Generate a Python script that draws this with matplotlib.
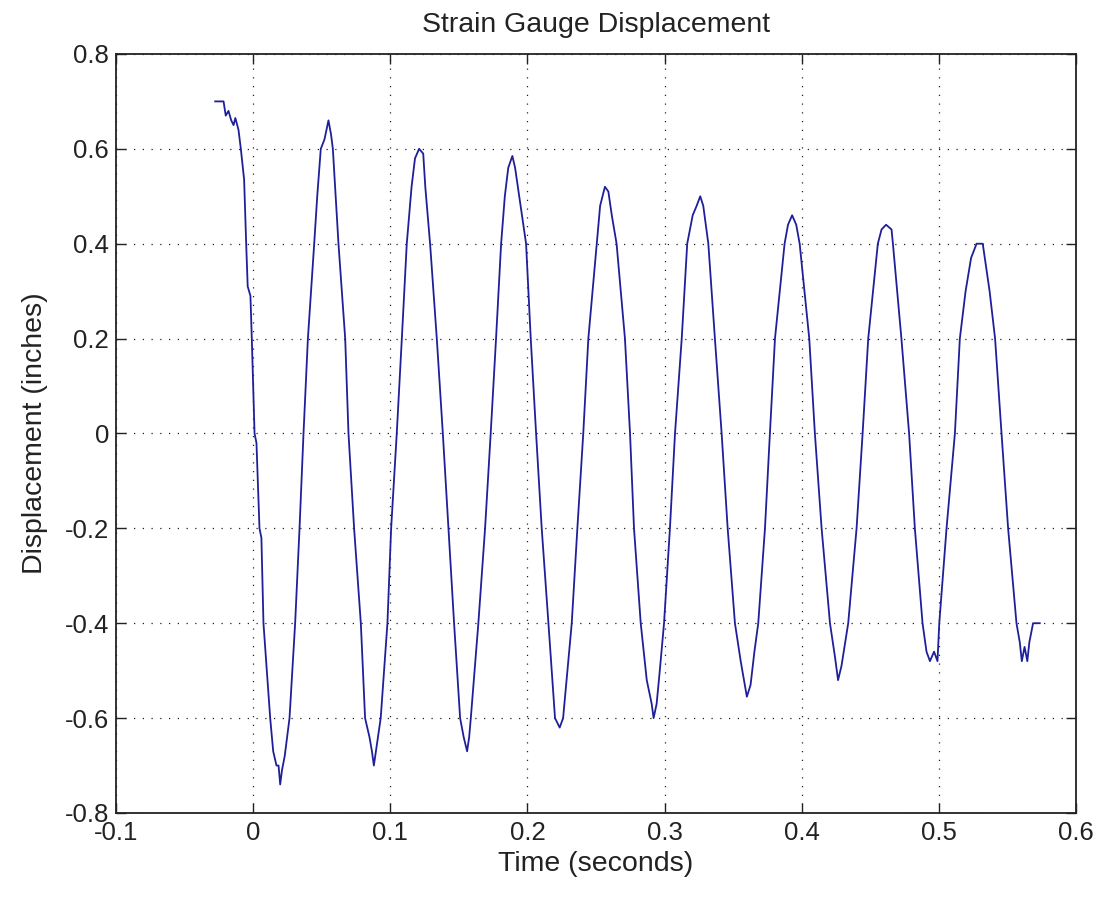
import matplotlib
matplotlib.use("Agg")
import matplotlib.pyplot as plt

plt.rcParams['font.family'] = ['Liberation Sans', 'DejaVu Sans']
plt.rcParams['axes.unicode_minus'] = False

# strain gauge record: time (s) and displacement (in)
time_s = [
    -0.0277, -0.0216, -0.0200, -0.0180, -0.0160, -0.0143, -0.0130, -0.0107,
    -0.0090, -0.0066, -0.0051, -0.0040, -0.0020, -0.0010, 0.0010, 0.0024,
    0.0046, 0.0060, 0.0075, 0.0097, 0.0124, 0.0146, 0.0170, 0.0185,
    0.0197, 0.0210, 0.0230, 0.0265, 0.0306, 0.0338, 0.0367, 0.0399,
    0.0445, 0.0467, 0.0493, 0.0520, 0.0549, 0.0568, 0.0581, 0.0622,
    0.0654, 0.0671, 0.0695, 0.0736, 0.0785, 0.0816, 0.0848, 0.0866,
    0.0880, 0.0890, 0.0930, 0.0979, 0.1006, 0.1047, 0.1084, 0.1120,
    0.1155, 0.1180, 0.1210, 0.1240, 0.1255, 0.1290, 0.1339, 0.1383,
    0.1424, 0.1465, 0.1509, 0.1535, 0.1560, 0.1575, 0.1587, 0.1642,
    0.1691, 0.1732, 0.1771, 0.1808, 0.1835, 0.1860, 0.1890, 0.1910,
    0.1940, 0.1990, 0.2024, 0.2063, 0.2104, 0.2153, 0.2201, 0.2235,
    0.2260, 0.2323, 0.2364, 0.2407, 0.2444, 0.2505, 0.2530, 0.2565,
    0.2590, 0.2615, 0.2650, 0.2711, 0.2748, 0.2777, 0.2826, 0.2870,
    0.2906, 0.2920, 0.2942, 0.2965, 0.2996, 0.3039, 0.3076, 0.3125,
    0.3165, 0.3205, 0.3234, 0.3260, 0.3282, 0.3319, 0.3367, 0.3416,
    0.3460, 0.3513, 0.3555, 0.3579, 0.3600, 0.3627, 0.3655, 0.3683,
    0.3732, 0.3768, 0.3805, 0.3875, 0.3900, 0.3930, 0.3960, 0.3985,
    0.4055, 0.4096, 0.4145, 0.4206, 0.4242, 0.4265, 0.4290, 0.4339,
    0.4400, 0.4444, 0.4485, 0.4555, 0.4582, 0.4615, 0.4655, 0.4665,
    0.4727, 0.4783, 0.4825, 0.4881, 0.4910, 0.4935, 0.4965, 0.4990,
    0.5003, 0.5056, 0.5117, 0.5153, 0.5195, 0.5235, 0.5275, 0.5320,
    0.5340, 0.5370, 0.5410, 0.5457, 0.5505, 0.5566, 0.5590, 0.5605,
    0.5625, 0.5645, 0.5660, 0.5687, 0.5736,
]
displacement_in = [
    0.70, 0.70, 0.67, 0.68, 0.66, 0.65, 0.665, 0.64,
    0.60, 0.535, 0.40, 0.31, 0.29, 0.20, 0.00, -0.02,
    -0.20, -0.22, -0.40, -0.49, -0.60, -0.67, -0.70, -0.70,
    -0.74, -0.71, -0.68, -0.60, -0.40, -0.20, 0.00, 0.20,
    0.40, 0.50, 0.60, 0.62, 0.66, 0.63, 0.60, 0.40,
    0.27, 0.20, 0.00, -0.20, -0.40, -0.60, -0.64, -0.67,
    -0.70, -0.68, -0.60, -0.40, -0.20, 0.00, 0.20, 0.40,
    0.52, 0.58, 0.60, 0.59, 0.52, 0.40, 0.20, 0.00,
    -0.20, -0.40, -0.60, -0.64, -0.67, -0.64, -0.60, -0.40,
    -0.20, 0.00, 0.20, 0.40, 0.50, 0.56, 0.585, 0.56,
    0.50, 0.40, 0.20, 0.00, -0.20, -0.40, -0.60, -0.62,
    -0.60, -0.40, -0.20, 0.00, 0.20, 0.40, 0.48, 0.52,
    0.51, 0.46, 0.40, 0.20, 0.00, -0.20, -0.40, -0.52,
    -0.57, -0.60, -0.57, -0.50, -0.40, -0.20, 0.00, 0.20,
    0.40, 0.46, 0.48, 0.50, 0.48, 0.40, 0.20, 0.00,
    -0.20, -0.40, -0.48, -0.52, -0.555, -0.53, -0.46, -0.40,
    -0.20, 0.00, 0.20, 0.40, 0.44, 0.46, 0.44, 0.40,
    0.20, 0.00, -0.20, -0.40, -0.47, -0.52, -0.49, -0.40,
    -0.20, 0.00, 0.20, 0.40, 0.43, 0.44, 0.43, 0.40,
    0.20, 0.00, -0.20, -0.40, -0.46, -0.48, -0.46, -0.48,
    -0.40, -0.20, 0.00, 0.20, 0.30, 0.37, 0.40, 0.40,
    0.36, 0.30, 0.20, 0.00, -0.20, -0.40, -0.44, -0.48,
    -0.45, -0.48, -0.44, -0.40, -0.40,
]

x_ticks = [-0.1, 0.0, 0.1, 0.2, 0.3, 0.4, 0.5, 0.6]
x_tick_labels = ['-0.1', '0', '0.1', '0.2', '0.3', '0.4', '0.5', '0.6']
y_ticks = [-0.8, -0.6, -0.4, -0.2, 0.0, 0.2, 0.4, 0.6, 0.8]
y_tick_labels = ['-0.8', '-0.6', '-0.4', '-0.2', '0', '0.2', '0.4', '0.6', '0.8']

fig = plt.figure(figsize=(11.02, 8.98), dpi=100)
ax = fig.add_axes([0.1053, 0.0947, 0.8711, 0.8452])

ax.plot(time_s, displacement_in, color='#1f1f9a', lw=1.3)

ax.set_xlim(-0.1, 0.6)
ax.set_ylim(-0.8, 0.8)
ax.set_xticks(x_ticks)
ax.set_xticklabels(x_tick_labels)
ax.set_yticks(y_ticks)
ax.set_yticklabels(y_tick_labels)

ax.grid(True, color='#222222', linestyle=(0, (1, 6)), lw=0.9)
ax.tick_params(direction='in', length=7, width=1, top=True, right=True,
               labelsize=18.5, colors='#222222')
ax.tick_params(axis='x', pad=6)
ax.tick_params(axis='y', pad=5)
for sp in ax.spines.values():
    sp.set_linewidth(1.3)
    sp.set_color('#222222')

ax.set_title('Strain Gauge Displacement', fontsize=20.5, pad=16, color='#222222')
ax.set_xlabel('Time (seconds)', fontsize=20.5, labelpad=4, color='#222222')
ax.set_ylabel('Displacement (inches)', fontsize=20.5, labelpad=12, color='#222222')

fig.savefig('out.png', dpi=100)
